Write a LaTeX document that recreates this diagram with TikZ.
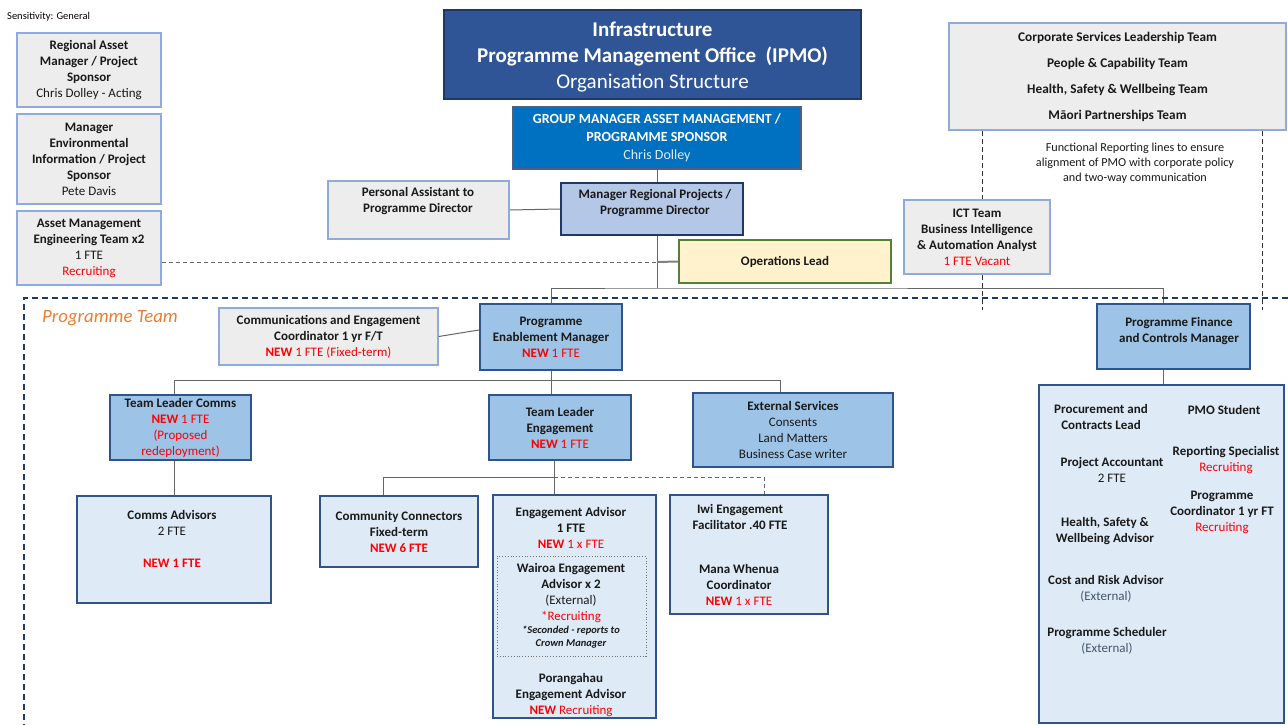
\documentclass[tikz,border=0pt]{standalone}
\usepackage{fontspec}
\setmainfont{Carlito}
\usepackage{xcolor}
\usetikzlibrary{positioning,calc}
\definecolor{greyfill}{RGB}{237,237,237}
\definecolor{greyedge}{RGB}{143,170,220}
\definecolor{navy}{RGB}{32,56,100}
\definecolor{midblue}{RGB}{47,85,151}
\definecolor{brightblue}{RGB}{0,112,192}
\definecolor{paleblue}{RGB}{222,235,247}
\definecolor{lightblue}{RGB}{157,195,230}
\definecolor{steel}{RGB}{180,199,231}
\definecolor{cream}{RGB}{255,242,204}
\definecolor{leaf}{RGB}{84,130,53}
\definecolor{newred}{RGB}{255,0,0}
\definecolor{orng}{RGB}{237,125,49}
\definecolor{slate}{RGB}{68,84,106}
\definecolor{edgeblue}{RGB}{47,84,140}
\newcommand{\nw}[1]{\textcolor{newred}{#1}}

\begin{document}
\begin{tikzpicture}[x=1pt,y=1pt,yscale=-1,
	txt/.style={font=\fontsize{13}{16}\selectfont, align=center, inner sep=0pt, text=black!90},
	greybox/.style={txt, draw=greyedge, fill=greyfill, line width=1.5pt},
	darkbox/.style={txt, draw=edgeblue, fill=lightblue, line width=2pt},
	palebox/.style={txt, draw=edgeblue, fill=paleblue, line width=2pt},
	conn/.style={draw=black!60, line width=1pt},
	dconn/.style={conn, dash pattern=on 4pt off 3pt},
	fline/.style={draw=black!80, line width=1pt, dash pattern=on 5pt off 3pt}]
	\useasboundingbox (0,0) rectangle (1288,725);

	\node [anchor=west, inner sep=0pt, font=\fontsize{10.5}{12}\selectfont] (sens) at (7,17) {Sensitivity: General};

	% top left
	\node [greybox, minimum width=144, minimum height=74] (rasset) at (89,70) {\textbf{Regional Asset}\\\textbf{Manager / Project}\\\textbf{Sponsor}\\Chris Dolley - Acting};
	\node [greybox, minimum width=144, minimum height=90] (menv) at (89,159) {\textbf{Manager}\\\textbf{Environmental}\\\textbf{Information / Project}\\\textbf{Sponsor}\\Pete Davis};
	\node [greybox, minimum width=144, minimum height=74] (ameng) at (89,248) {\textbf{Asset Management}\\\textbf{Engineering Team x2}\\1 FTE\\\nw{Recruiting}};

	% top centre
	\node [draw=navy, fill=midblue, line width=2.5pt, minimum width=417, minimum height=89, text=white, align=center, inner sep=0pt, font=\fontsize{21}{26}\selectfont] (title) at (652.5,54.5) {};
	\node [text=white, align=center, inner sep=0pt, font=\fontsize{21}{26}\selectfont] (titletxt) at (652.5,57.5) {\textbf{Infrastructure}\\\textbf{Programme Management Office\ \ (IPMO)}\\Organisation Structure};
	\node [draw=navy!80, fill=brightblue, line width=1.5pt, minimum width=288, minimum height=62, text=white, align=center, inner sep=0pt, font=\fontsize{14}{18}\selectfont] (gm) at (657,138) {\textbf{GROUP MANAGER ASSET MANAGEMENT /}\\\textbf{PROGRAMME SPONSOR}\\\textcolor{paleblue}{Chris Dolley}};
	\node [greybox, minimum width=181, minimum height=58] (pa) at (418.5,210) {};
	\node [txt] (patxt) at (418,201) {\textbf{Personal Assistant to}\\\textbf{Programme Director}};
	\node [txt, draw=navy, fill=steel, line width=2pt, minimum width=182, minimum height=52] (mrp) at (652,209) {};
	\node [txt] (mrptxt) at (655,203) {\textbf{Manager Regional Projects /}\\\textbf{Programme Director}};
	\node [txt, draw=leaf, fill=cream, line width=2pt, minimum width=212, minimum height=43] (ops) at (785,261.5) {\textbf{Operations Lead}};

	% top right
	\node [greybox, minimum width=337, minimum height=107, font=\bfseries\fontsize{13.3}{26}\selectfont] (corp) at (1117.5,76.5) {Corporate Services Leadership Team\\People \& Capability Team\\Health, Safety \& Wellbeing Team\\M\={a}ori Partnerships Team};
	\node [txt, font=\fontsize{12.2}{15}\selectfont] (fnote) at (1135,163) {Functional Reporting lines to ensure\\alignment of PMO with corporate policy\\and two-way communication};
	\node [greybox, minimum width=146, minimum height=74] (ict) at (977,237) {\textbf{ICT Team}\\\textbf{Business Intelligence}\\\textbf{\& Automation Analyst}\\\nw{1 FTE Vacant}};

	% programme team
	\node [anchor=west, inner sep=0pt, text=orng, font=\itshape\fontsize{18.8}{21}\selectfont] (ptlabel) at (42,318) {Programme Team};
	\node [greybox, minimum width=219, minimum height=57] (ccoord) at (328.5,336.5) {\textbf{Communications and Engagement}\\\textbf{Coordinator 1 yr F/T}\\\nw{\textbf{NEW} 1 FTE (Fixed-term)}};
	\node [darkbox, minimum width=142, minimum height=66] (pem) at (551,337) {\textbf{Programme}\\\textbf{Enablement Manager}\\\nw{\textbf{NEW} 1 FTE}};
	\node [darkbox, minimum width=153, minimum height=65] (pfc) at (1173.5,336.5) {};
	\node [txt] (pfctxt) at (1179,331) {\textbf{Programme Finance}\\\textbf{and Controls Manager}};

	\node [darkbox, minimum width=141, minimum height=65] (tlc) at (180.5,427.5) {\textbf{Team Leader Comms}\\\nw{\textbf{NEW} 1 FTE}\\\nw{(Proposed}\\\nw{redeployment)}};
	\node [darkbox, minimum width=142, minimum height=65] (tle) at (560,427.5) {\textbf{Team Leader}\\\textbf{Engagement}\\\nw{\textbf{NEW} 1 FTE}};
	\node [darkbox, minimum width=200, minimum height=74] (ext) at (793,430) {\textbf{External Services}\\Consents\\Land Matters\\Business Case writer};

	\node [palebox, minimum width=194, minimum height=107] (cadv) at (174,549.5) {};
	\node [txt] (cadvtxt) at (172,539) {\textbf{Comms Advisors}\\2 FTE\\[16pt]\nw{\textbf{NEW 1 FTE}}};
	\node [palebox, minimum width=158, minimum height=71] (cc) at (399,531.5) {\textbf{Community Connectors}\\\textbf{Fixed-term}\\\nw{\textbf{NEW 6 FTE}}};

	\node [palebox, minimum width=163, minimum height=223] (ea) at (574.5,606.5) {};
	\node [draw=black!55, dotted, line width=0.8pt, minimum width=149, minimum height=100] (wai) at (571.5,606) {};
	\node [txt] (eatxt) at (571,528) {\textbf{Engagement Advisor}\\\textbf{1 FTE}\\\nw{\textbf{NEW} 1 x FTE}};
	\node [txt] (waitxt) at (571,593) {\textbf{Wairoa Engagement}\\\textbf{Advisor x 2}\\(External)\\\nw{*Recruiting}};
	\node [txt, font=\bfseries\itshape\fontsize{10.5}{13}\selectfont] (secnote) at (571,637.5) {*Seconded - reports to\\Crown Manager};
	\node [txt] (portxt) at (571,695) {\textbf{Porangahau}\\\textbf{Engagement Advisor}\\\nw{\textbf{NEW} Recruiting}};

	\node [palebox, minimum width=158, minimum height=119] (iwi) at (749,554.5) {};
	\node [txt] (iwitxt) at (740,517) {\textbf{Iwi Engagement}\\\textbf{Facilitator .40 FTE}};
	\node [txt] (mwtxt) at (739,585) {\textbf{Mana Whenua}\\\textbf{Coordinator}\\\nw{\textbf{NEW} 1 x FTE}};

	% finance team
	\node [palebox, minimum width=245, minimum height=338] (fin) at (1161.5,554) {};
	\node [txt] (proc) at (1101,417) {\textbf{Procurement and}\\\textbf{Contracts Lead}};
	\node [txt] (pacc) at (1112,470) {\textbf{Project Accountant}\\2 FTE};
	\node [txt] (hsw) at (1105,531) {\textbf{Health, Safety \&}\\\textbf{Wellbeing Advisor}};
	\node [txt] (cra) at (1106,588.5) {\textbf{Cost and Risk Advisor}\\\textcolor{slate}{(External)}};
	\node [txt] (psch) at (1107,640.5) {\textbf{Programme Scheduler}\\\textcolor{slate}{(External)}};
	\node [txt] (pmos) at (1224,410) {\textbf{PMO Student}};
	\node [txt] (rspec) at (1226,460) {\textbf{Reporting Specialist}\\\nw{Recruiting}};
	\node [txt] (pcoord) at (1222,512) {\textbf{Programme}\\\textbf{Coordinator 1 yr FT}\\\nw{Recruiting}};

	% junctions
	\coordinate (jtop) at (657,288);
	\coordinate (jfin) at (1163,288);
	\coordinate (jops) at (657,262);
	\coordinate (jcl) at (174,380);
	\coordinate (jcr) at (780,380);
	\coordinate (jeng) at (554,477);
	\coordinate (jccl) at (383,477);
	\coordinate (jiwi) at (764,477);
	\coordinate (fa) at (982,310);
	\coordinate (fb) at (1262,310);

	\draw [conn] (gm.south) -- (gm.south |- mrp.north);
	\draw [conn] (mrp.south -| jtop) -- (jtop);
	\draw [conn] (pem.north) |- (jtop) -- (jfin) -- (jfin |- pfc.north);
	\draw [conn] (pa.east) -- (mrp.west);
	\draw [dconn] (ameng.east |- jops) -- (jops);
	\draw [conn, draw=black!50, line width=2pt] (jops) -- (ops.west);
	\draw [conn] (ccoord.east) -- ($(pem.west)+(0,-7)$);
	\draw [conn] (pem.south) -- (pem.south |- tle.north);
	\draw [conn] (jcl |- tlc.north) -- (jcl) -- (jcr) -- (jcr |- ext.north);
	\draw [conn] (cadv.north |- tlc.south) -- (cadv.north);
	\draw [conn] (jeng |- tle.south) -- (jeng |- ea.north);
	\draw [conn] (jccl |- cc.north) -- (jccl) -- (jeng);
	\draw [dconn] (jeng) -- (jiwi) -- (jiwi |- iwi.north);
	\draw [conn] (jfin |- pfc.south) -- (jfin |- fin.north);
	\draw [fline] (fa |- corp.south) -- (fa |- ict.north);
	\draw [fline] (fa |- ict.south) -- (fa);
	\draw [fline] (fb |- corp.south) -- (fb);

	% programme team frame
	\draw [navy, line width=2pt, dash pattern=on 6pt off 4pt] (1288,298) -- (24,298) -- (24,725);
\end{tikzpicture}
\end{document}
